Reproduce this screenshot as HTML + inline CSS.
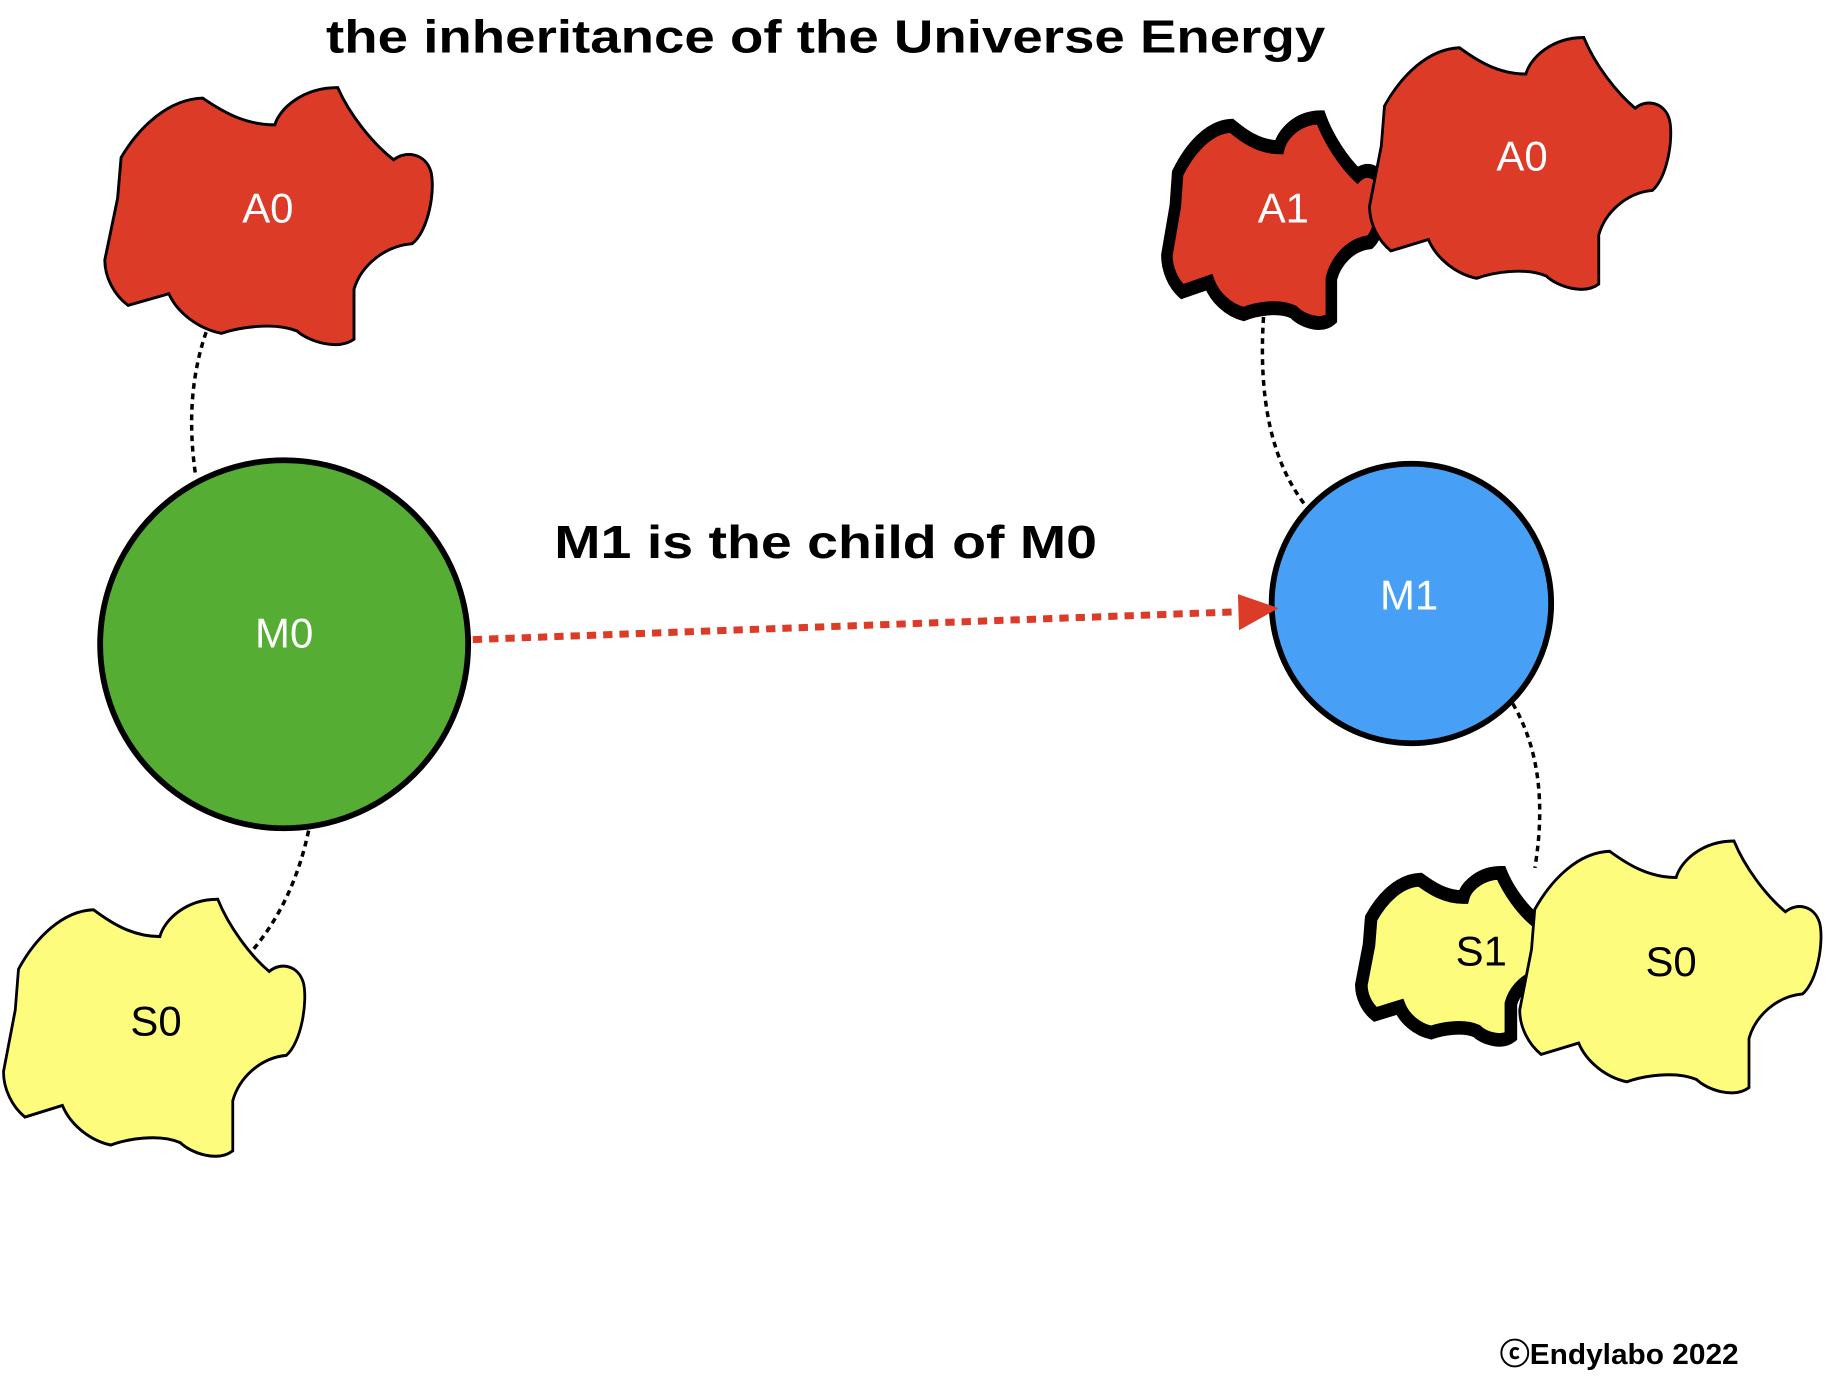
<!DOCTYPE html>
<html><head><meta charset="utf-8"><style>
html,body{margin:0;padding:0;background:#fff;}
svg{display:block}
text{font-family:"Liberation Sans","DejaVu Sans",sans-serif;}
</style></head><body>
<svg width="1826" height="1384" viewBox="0 0 1568 1188" xmlns="http://www.w3.org/2000/svg">
<defs>
<path id="blob" d="M14,62 C30,35 55,12 84,11 C100,22 120,34 146,34 C150,20 170,2 200,2 C210,25 230,50 248,64 C258,56 275,58 280,74 C284,90 278,125 264,136 C240,138 220,155 214,175 L214,218 C200,228 175,220 165,211 C145,203 115,208 100,213 C80,209 62,195 55,179 L20,189 C8,180 0,165 0,150 L11,97 Z"/>
</defs>
<text x="280" y="45" font-size="40" font-weight="bold" textLength="858" lengthAdjust="spacingAndGlyphs">the inheritance of the Universe Energy</text>

<g fill="none" stroke="#000" stroke-width="3" stroke-dasharray="5 4">
<path d="M177,285 Q158,340 168,408"/>
<path d="M265,713 Q252,775 215,818"/>
<path d="M1085,272 Q1078,380 1122,435"/>
<path d="M1299,604 Q1332,660 1318,745"/>
</g>

<use href="#blob" transform="translate(90,73)" fill="#db3b27" stroke="#000" stroke-width="2.5"/>
<text x="230" y="191" text-anchor="middle" font-size="36" fill="#fff">A0</text>
<use href="#blob" transform="translate(3,770) scale(0.92,1)" fill="#fdfc7c" stroke="#000" stroke-width="2.6"/>
<text x="134" y="889" text-anchor="middle" font-size="36" fill="#000">S0</text>

<use href="#blob" transform="translate(1002,99) scale(0.66,0.8)" fill="#db3b27" stroke="#000" stroke-width="15"/>
<text x="1102" y="191" text-anchor="middle" font-size="36" fill="#fff">A1</text>
<use href="#blob" transform="translate(1176,30) scale(0.92,0.98)" fill="#db3b27" stroke="#000" stroke-width="2.6"/>
<text x="1307" y="146" text-anchor="middle" font-size="36" fill="#fff">A0</text>

<use href="#blob" transform="translate(1169,748) scale(0.6,0.65)" fill="#fdfc7c" stroke="#000" stroke-width="18"/>
<text x="1272" y="829" text-anchor="middle" font-size="36" fill="#000">S1</text>
<use href="#blob" transform="translate(1305,720) scale(0.92,0.98)" fill="#fdfc7c" stroke="#000" stroke-width="2.6"/>
<text x="1435" y="838" text-anchor="middle" font-size="36" fill="#000">S0</text>

<circle cx="244" cy="553" r="158" fill="#55ad34" stroke="#000" stroke-width="5"/>
<text x="244" y="556" text-anchor="middle" font-size="36" fill="#fff">M0</text>
<circle cx="1212" cy="518" r="120" fill="#489ff6" stroke="#000" stroke-width="5"/>
<text x="1210" y="523" text-anchor="middle" font-size="36" fill="#fff">M1</text>

<line x1="406" y1="549" x2="1066" y2="525" stroke="#db3b27" stroke-width="6" stroke-dasharray="8 6"/>
<polygon points="1063,510 1098,522 1064,541" fill="#db3b27"/>
<text x="476" y="479" font-size="40" font-weight="bold" textLength="466" lengthAdjust="spacingAndGlyphs">M1 is the child of M0</text>

<text x="1288" y="1171" font-size="25" font-weight="bold" textLength="205" lengthAdjust="spacingAndGlyphs">ⓒEndylabo 2022</text>
</svg>
</body></html>
